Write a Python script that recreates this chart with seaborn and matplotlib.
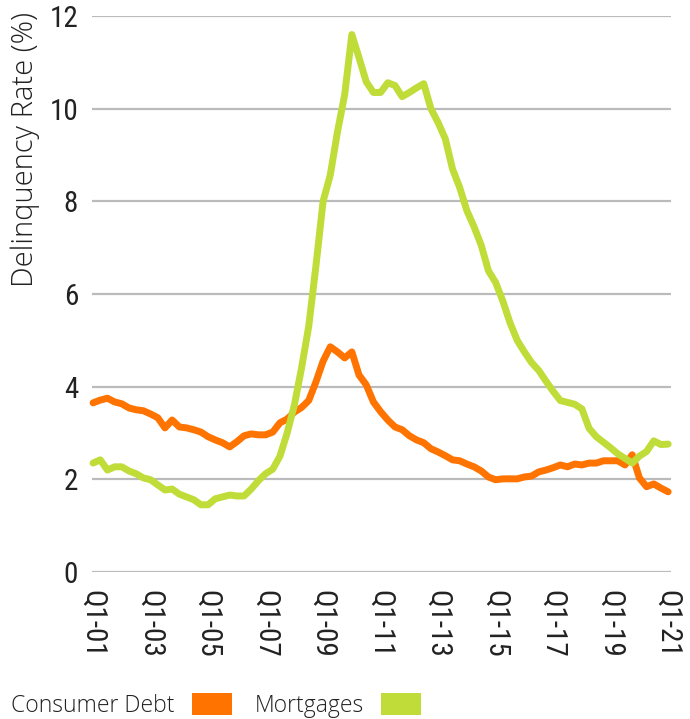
import numpy as np
import pandas as pd
import seaborn as sns
import matplotlib.pyplot as plt
from matplotlib.patches import Patch

# ---- data ----
quarters = list(range(81))  # Q1-01 ... Q1-21, quarterly
tick_positions = [0, 8, 16, 24, 32, 40, 48, 56, 64, 72, 80]
tick_labels = ["Q1-01", "Q1-03", "Q1-05", "Q1-07", "Q1-09", "Q1-11",
               "Q1-13", "Q1-15", "Q1-17", "Q1-19", "Q1-21"]

consumer_debt = [3.65, 3.71, 3.75, 3.67, 3.63, 3.54, 3.50, 3.48, 3.41, 3.33,
                 3.11, 3.28, 3.13, 3.11, 3.07, 3.02, 2.92, 2.85, 2.79, 2.70,
                 2.81, 2.94, 2.98, 2.96, 2.96, 3.02, 3.22, 3.30, 3.45, 3.55,
                 3.70, 4.10, 4.55, 4.86, 4.75, 4.62, 4.75, 4.25, 4.04, 3.67,
                 3.46, 3.28, 3.13, 3.07, 2.94, 2.85, 2.79, 2.66, 2.59, 2.51,
                 2.42, 2.40, 2.33, 2.27, 2.18, 2.05, 1.99, 2.01, 2.01, 2.01,
                 2.05, 2.07, 2.16, 2.20, 2.25, 2.31, 2.27, 2.33, 2.31, 2.35,
                 2.35, 2.40, 2.40, 2.40, 2.31, 2.53, 2.03, 1.84, 1.90, 1.81,
                 1.73]

mortgages = [2.35, 2.42, 2.20, 2.27, 2.27, 2.18, 2.12, 2.03, 1.99, 1.88,
             1.77, 1.79, 1.68, 1.62, 1.56, 1.45, 1.45, 1.58, 1.62, 1.66,
             1.64, 1.64, 1.79, 1.97, 2.12, 2.22, 2.50, 3.00, 3.60, 4.40,
             5.30, 6.60, 8.00, 8.57, 9.50, 10.30, 11.60, 11.10, 10.58, 10.35,
             10.35, 10.56, 10.50, 10.26, 10.35, 10.45, 10.54, 10.00, 9.70, 9.35,
             8.70, 8.30, 7.80, 7.45, 7.05, 6.50, 6.25, 5.85, 5.38, 5.00,
             4.75, 4.52, 4.35, 4.12, 3.90, 3.70, 3.66, 3.62, 3.52, 3.10,
             2.92, 2.80, 2.68, 2.55, 2.45, 2.35, 2.50, 2.60, 2.83, 2.75,
             2.76]

series_names = ["Consumer Debt", "Mortgages"]
colors = ["#FF7300", "#BFDC38"]

df = pd.DataFrame({
    "quarter": quarters * 2,
    "rate": consumer_debt + mortgages,
    "series": [series_names[0]] * 81 + [series_names[1]] * 81,
})

sns.set_theme(style="white")
plt.rcParams["font.family"] = ["Open Sans", "DejaVu Sans"]

fig = plt.figure(figsize=(6.9, 7.19), dpi=100)
ax = fig.add_axes([0.1333, 0.2045, 0.8392, 0.7732])

sns.lineplot(data=df, x="quarter", y="rate", hue="series",
             palette=dict(zip(series_names, colors)), linewidth=5,
             legend=False, ax=ax, clip_on=False, zorder=3)

ax.set_ylim(0, 12)
ax.set_xlim(-0.15, 80.4)
ax.set_yticks([0, 2, 4, 6, 8, 10, 12])
ax.grid(axis="y", color="#BBBBBB", linewidth=1.6)
ax.grid(axis="x", visible=False)
for s in ax.spines.values():
    s.set_visible(False)

tick_font = ["Roboto Condensed", "DejaVu Sans"]
ax.set_xticks(tick_positions)
ax.set_xticklabels(tick_labels, rotation=-90, fontsize=21,
                   family=tick_font, color="#222222")
for lab in ax.get_yticklabels():
    lab.set_fontsize(21)
    lab.set_family(tick_font)
    lab.set_color("#222222")
ax.tick_params(axis="x", length=0, pad=13)
ax.tick_params(axis="y", length=0, pad=10)

ax.set_xlabel("")
ax.set_ylabel("Delinquency Rate (%)", fontsize=21, color="#222222",
              fontweight="light")
ax.yaxis.set_label_coords(-0.09, 0.76)

handles = [Patch(facecolor=c, edgecolor="none") for c in colors]
fig.legend(handles, series_names, loc="lower left",
           bbox_to_anchor=(-0.014, -0.027), ncol=2, frameon=False,
           markerfirst=False, handlelength=1.75,
           handleheight=1.05, handletextpad=0.75, columnspacing=1.0,
           labelcolor="#222222", prop={"weight": "light", "size": 16.5})

fig.savefig("out.png", dpi=100)
